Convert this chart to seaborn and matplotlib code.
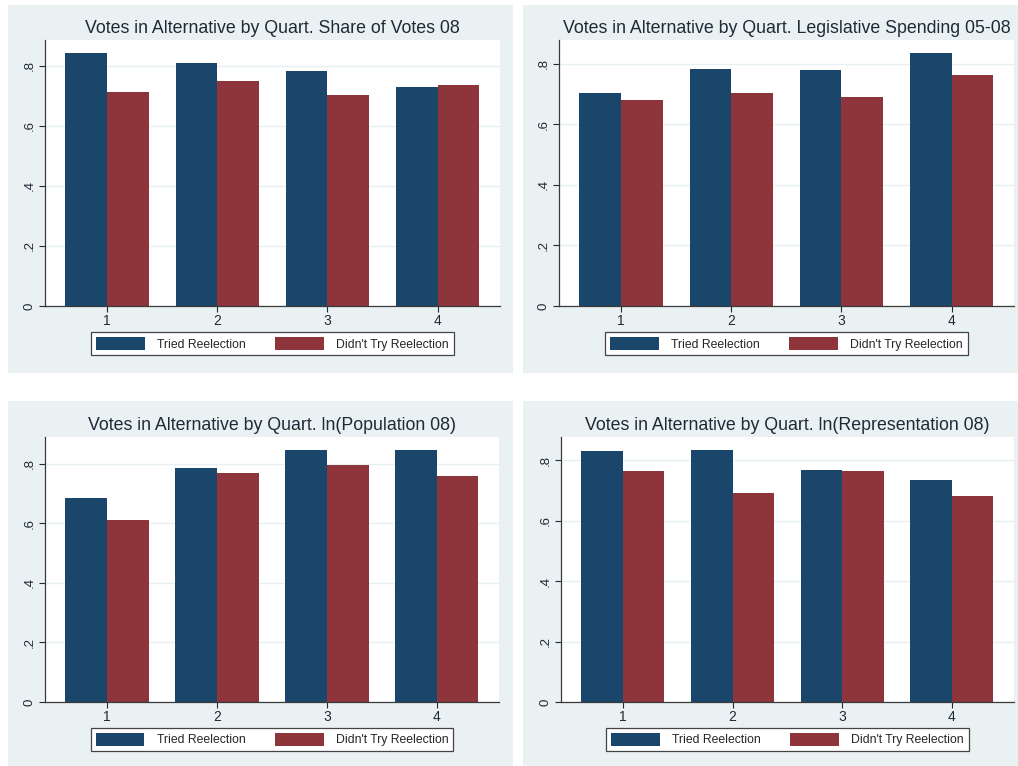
import matplotlib
matplotlib.use("Agg")
import matplotlib.pyplot as plt
import pandas as pd
import seaborn as sns

QUARTILES = ["1", "2", "3", "4"]
GROUPS = ["Tried Reelection", "Didn't Try Reelection"]
TITLES = [
    "Votes in Alternative by Quart. Share of Votes 08",
    "Votes in Alternative by Quart. Legislative Spending 05-08",
    "Votes in Alternative by Quart. ln(Population 08)",
    "Votes in Alternative by Quart. ln(Representation 08)",
]
TRIED = [
    [0.844, 0.809, 0.784, 0.731],
    [0.703, 0.783, 0.781, 0.837],
    [0.683, 0.785, 0.847, 0.845],
    [0.832, 0.835, 0.767, 0.735],
]
DIDNT = [
    [0.713, 0.751, 0.704, 0.736],
    [0.681, 0.703, 0.689, 0.763],
    [0.610, 0.767, 0.794, 0.758],
    [0.763, 0.692, 0.763, 0.681],
]
Y_TICKS = [0, 0.2, 0.4, 0.6, 0.8]
Y_LABELS = ["0", ".2", ".4", ".6", ".8"]

NAVY = "#1a466c"
MAROON = "#8e343b"
PANEL_BG = "#e9f1f3"
TEXT = "#1f2a36"

sns.set_style("white")
plt.rcParams["font.family"] = ["Liberation Sans", "DejaVu Sans"]

W, H = 1018, 766
fig = plt.figure(figsize=(W / 100, H / 100), dpi=100)

# panel backgrounds (pixel boxes: x0, y0, x1, y1)
panels = [(8, 5, 513, 373), (523, 5, 1018, 373), (8, 401, 513, 766), (523, 401, 1018, 766)]
# plot areas in pixels
areas = [(45, 40, 500, 306), (559, 40, 1014, 306), (45, 437, 499, 702), (561, 437, 1014, 702)]


def px_box(x0, y0, x1, y1):
    return [x0 / W, 1 - y1 / H, (x1 - x0) / W, (y1 - y0) / H]


for i in range(4):
    bg = fig.add_axes(px_box(*panels[i]), zorder=-1)
    bg.set_facecolor(PANEL_BG)
    bg.set_xticks([])
    bg.set_yticks([])
    for s in bg.spines.values():
        s.set_visible(False)

    ax = fig.add_axes(px_box(*areas[i]), zorder=1)

    df = pd.DataFrame({
        "quartile": QUARTILES * 2,
        "group": [GROUPS[0]] * 4 + [GROUPS[1]] * 4,
        "value": TRIED[i] + DIDNT[i],
    })
    sns.barplot(data=df, x="quartile", y="value", hue="group", order=QUARTILES,
                hue_order=GROUPS, palette=[NAVY, MAROON], saturation=1,
                width=0.758, linewidth=0, ax=ax)

    top = max(TRIED[i] + DIDNT[i]) * 1.05
    ax.set_ylim(0, top)
    ax.set_xlim(-0.564, 3.566)
    ax.set_facecolor("white")
    ax.set_yticks(Y_TICKS)
    ax.set_yticklabels(Y_LABELS, rotation=90, va="center", fontsize=9.5, color=TEXT)
    ax.tick_params(axis="x", labelsize=10, colors=TEXT, length=4, width=0.8,
                   bottom=True, pad=2)
    ax.tick_params(axis="y", length=4, width=0.8, left=True, colors=TEXT, pad=3)
    ax.set_xlabel("")
    ax.set_ylabel("")
    ax.yaxis.grid(True, color="#e6eff1", linewidth=1)
    ax.set_axisbelow(True)
    for s in ["top", "right"]:
        ax.spines[s].set_visible(False)
    for s in ["left", "bottom"]:
        ax.spines[s].set_color("#3a3a3a")
        ax.spines[s].set_linewidth(0.9)

    ax.set_title(TITLES[i], fontsize=12.8, color=TEXT, pad=5)

    leg = ax.get_legend()
    handles = leg.legend_handles
    labels = [t.get_text() for t in leg.get_texts()]
    leg.remove()
    ax.legend(handles, labels, ncol=2, loc="upper center", bbox_to_anchor=(0.5, -0.075),
              fontsize=8.8, handlelength=4.0, handleheight=1.25, columnspacing=2.4,
              handletextpad=1.0, borderpad=0.4, frameon=True, fancybox=False,
              edgecolor="#444444", facecolor="white", framealpha=1)
    ax.get_legend().get_frame().set_linewidth(0.9)

fig.savefig("out.png", dpi=100, facecolor="white")
